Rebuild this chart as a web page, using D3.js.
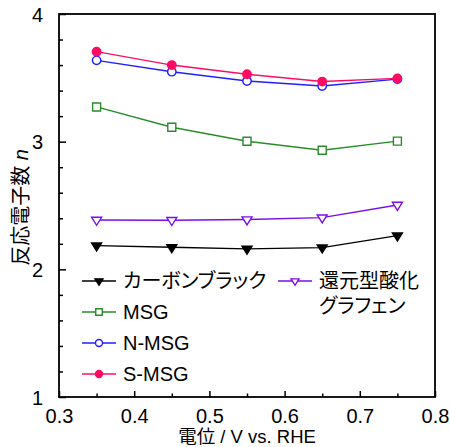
<!DOCTYPE html>
<html><head><meta charset="utf-8">
<script src="https://cdn.jsdelivr.net/npm/d3@7"></script>
<style>
body{margin:0;background:#fff;}
text{font-family:"Liberation Sans",Arial,"Noto Sans CJK JP",sans-serif;fill:#000;}
.jp{font-feature-settings:"palt";}
</style></head>
<body><svg id="c" width="450" height="447"></svg>
<script>
const potentials = [0.35, 0.45, 0.55, 0.65, 0.75];
const carbonBlack = [2.186, 2.173, 2.160, 2.170, 2.264];
const rGO = [2.387, 2.385, 2.390, 2.405, 2.504];
const msg = [3.272, 3.113, 3.003, 2.933, 3.004];
const nmsg = [3.637, 3.548, 3.475, 3.436, 3.490];
const smsg = [3.705, 3.600, 3.528, 3.471, 3.496];
const xTicks = [0.3, 0.4, 0.5, 0.6, 0.7, 0.8];
const yTicks = [1, 2, 3, 4];
const xLabel = "電位 / V vs. RHE";
const yLabel = "反応電子数 ";
const yLabelVar = "n";

const series = [
  {name:"カーボンブラック", values:carbonBlack, color:"#000000", marker:"triDown", fill:true},
  {name:"還元型酸化|グラフェン", values:rGO, color:"#7a0ee6", marker:"triDown", fill:false},
  {name:"MSG", values:msg, color:"#2a8c2a", marker:"square", fill:false},
  {name:"N-MSG", values:nmsg, color:"#1f1fff", marker:"circle", fill:false},
  {name:"S-MSG", values:smsg, color:"#ff0a64", marker:"circle", fill:true}
];

const L=59, R=435, T=14, B=397;
const x = d3.scaleLinear().domain([0.3,0.8]).range([L,R]);
const y = d3.scaleLinear().domain([1,4]).range([B,T]);
const svg = d3.select("#c");

function markerPath(type, s){
  if(type==="square") return `M${-s/2},${-s/2}h${s}v${s}h${-s}Z`;
  if(type==="circle") return d3.symbol(d3.symbolCircle, Math.PI*(s/2)*(s/2))();
  const h = s*0.8;
  return `M${-s/2},${-h/3}L${s/2},${-h/3}L0,${2*h/3}Z`;
}
const sizes = {square:8, circle:8.4, triDown:10};
const legendSizes = {square:6.5, circle:7, triDown:8};

const xAxis = d3.axisBottom(x).tickValues(xTicks).tickFormat(d3.format(".1f")).tickSizeInner(-6).tickSizeOuter(0).tickPadding(12);
const gx = svg.append("g").attr("transform",`translate(0,${B})`).call(xAxis);
const xMinor = d3.axisBottom(x).tickValues([0.35,0.45,0.55,0.65,0.75]).tickFormat("").tickSizeInner(-3.5).tickSizeOuter(0);
const gxm = svg.append("g").attr("transform",`translate(0,${B})`).call(xMinor);
const yAxis = d3.axisLeft(y).tickValues(yTicks).tickFormat(d3.format("d")).tickSizeInner(-7).tickSizeOuter(0).tickPadding(16);
const gy = svg.append("g").attr("transform",`translate(${L},0)`).call(yAxis);
const yMinorVals = d3.range(1,4.001,0.2).filter(v=>Math.abs(v-Math.round(v))>1e-6);
const yMinor = d3.axisLeft(y).tickValues(yMinorVals).tickFormat("").tickSizeInner(-4).tickSizeOuter(0);
const gym = svg.append("g").attr("transform",`translate(${L},0)`).call(yMinor);
[gx,gxm,gy,gym].forEach(g=>{
  g.select(".domain").remove();
  g.selectAll("line").attr("stroke","#000").attr("stroke-width",1.5);
  g.selectAll("text").attr("font-size","20px").attr("font-family",'"Liberation Sans",Arial,sans-serif');
});
gy.selectAll(".tick text").attr("dy","0.36em");
svg.append("rect").attr("x",L).attr("y",T).attr("width",R-L).attr("height",B-T)
  .attr("fill","none").attr("stroke","#000").attr("stroke-width",1.8);

const line = d3.line().x((d,i)=>x(potentials[i])).y(d=>y(d));
series.forEach(s=>{
  const g = svg.append("g");
  g.append("path").attr("d",line(s.values)).attr("fill","none").attr("stroke",s.color).attr("stroke-width",1.4);
  g.selectAll("path.m").data(s.values).enter().append("path").attr("class","m")
    .attr("transform",(d,i)=>`translate(${x(potentials[i])},${y(d)})`)
    .attr("d",markerPath(s.marker,sizes[s.marker]))
    .attr("fill",s.fill?s.color:"#fff").attr("stroke",s.color).attr("stroke-width",1.4);
});

const legendPos = [
  {s:0, x:82, y:281},
  {s:2, x:82, y:312},
  {s:3, x:82, y:343},
  {s:4, x:82, y:374},
  {s:1, x:278, y:281}
];
legendPos.forEach(p=>{
  const s = series[p.s];
  const g = svg.append("g").attr("transform",`translate(${p.x},${p.y})`);
  g.append("line").attr("x1",0).attr("x2",34).attr("y1",0).attr("y2",0).attr("stroke",s.color).attr("stroke-width",1.6);
  g.append("path").attr("transform","translate(17,0)").attr("d",markerPath(s.marker,legendSizes[s.marker]))
    .attr("fill",s.fill?s.color:"#fff").attr("stroke",s.color).attr("stroke-width",1.4);
  const parts = s.name.split("|");
  const t = g.append("text").attr("class","jp").attr("x",41).attr("y",0).attr("font-size","20px");
  parts.forEach((pt,i)=>{
    t.append("tspan").attr("x",41).attr("dy", i===0?"0.35em":"1.25em").text(pt);
  });
});

svg.append("text").attr("x",(L+R)/2).attr("y",443).attr("text-anchor","middle").attr("font-size","18.5px").text(xLabel);
const yt = svg.append("text").attr("transform",`translate(28,${(T+B)/2+2}) rotate(-90)`).attr("text-anchor","middle").attr("font-size","20px");
yt.append("tspan").text(yLabel);
yt.append("tspan").attr("font-style","italic").text(yLabelVar);
</script></body></html>
